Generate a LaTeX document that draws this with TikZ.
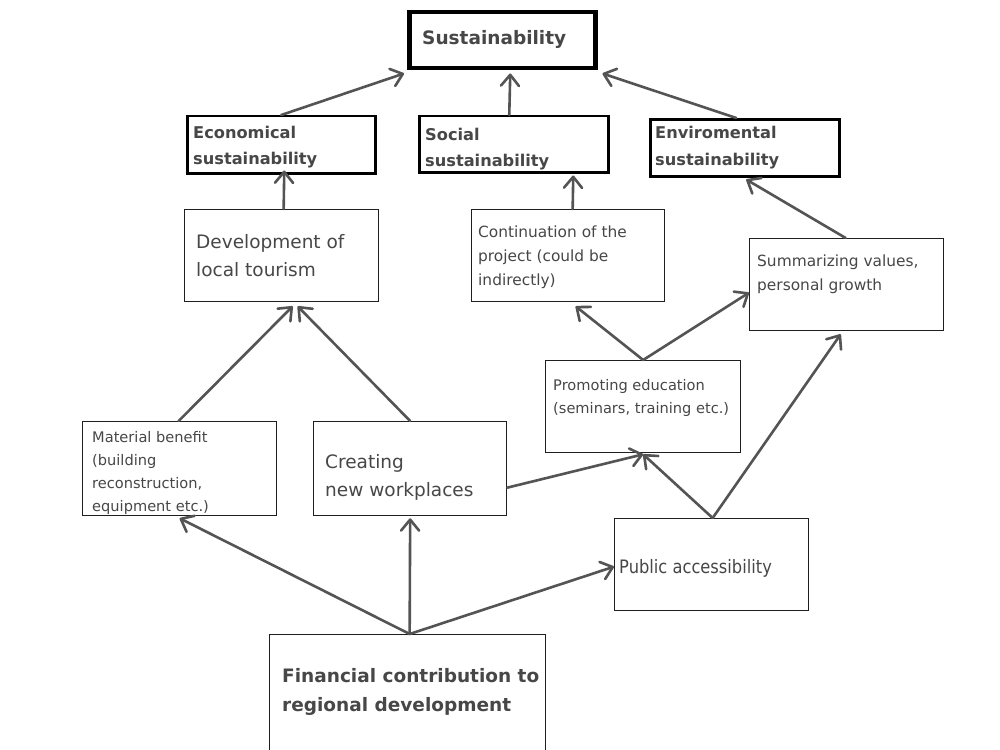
\documentclass[tikz,border=0pt]{standalone}
\usepackage{fontspec}
\setmainfont{DejaVu Sans}
\newfontfamily\condfont[FakeStretch=0.88]{DejaVu Sans}
\usetikzlibrary{arrows.meta,calc}
\definecolor{txt}{HTML}{474747}
\definecolor{arrc}{HTML}{545454}
\begin{document}
\begin{tikzpicture}[x=1pt,y=-1pt,
  box/.style={draw=black!88, line width=1.3pt, inner sep=0pt, anchor=north west, fill=none},
  bigbox/.style={box, line width=2.5pt, draw=black},
  topbox/.style={box, line width=4.5pt, draw=black},
  lbl/.style={anchor=base west, inner sep=0pt, text=txt},
  conn/.style={draw=arrc, line width=2.6pt, line cap=round, -{Straight Barb[length=11pt,width=18pt,line cap=round,line join=round]}},
  fL/.style={font=\fontsize{18.5}{22}\selectfont},
  fLb/.style={font=\fontsize{18.5}{22}\selectfont\bfseries},
  fMb/.style={font=\fontsize{16.2}{20}\selectfont\bfseries},
  fM/.style={font=\fontsize{15.4}{19}\selectfont},
  fS/.style={font=\fontsize{14.6}{18}\selectfont},
  fC/.style={font=\fontsize{18.5}{22}\selectfont\condfont},
]
\useasboundingbox (0,0) rectangle (1000,749);
\fill[white] (0,0) rectangle (1000,749);

% boxes
\node[topbox, minimum width=186pt, minimum height=56pt] (sust) at (407,10) {};
\node[bigbox, minimum width=188pt, minimum height=57pt] (econ) at (186,115) {};
\node[bigbox, minimum width=189pt, minimum height=56pt] (social) at (418,115) {};
\node[bigbox, minimum width=189pt, minimum height=57pt] (env) at (649,118) {};
\node[box, minimum width=194pt, minimum height=92pt] (dev) at (184,209) {};
\node[box, minimum width=193pt, minimum height=92pt] (cont) at (471,209) {};
\node[box, minimum width=194pt, minimum height=92pt] (summ) at (749,238) {};
\node[box, minimum width=195pt, minimum height=92pt] (prom) at (545,360) {};
\node[box, minimum width=194pt, minimum height=94pt] (mat) at (82,421) {};
\node[box, minimum width=193pt, minimum height=94pt] (creat) at (313,421) {};
\node[box, minimum width=194pt, minimum height=92pt] (pub) at (614,518) {};
\node[box, minimum width=276pt, minimum height=130pt] (fin) at (269,634) {};

% texts
\node[lbl, fLb] (tsust) at (422,45) {Sustainability};
\node[lbl, fMb] (tecon1) at (193,138) {Economical};
\node[lbl, fMb] (tecon2) at (193,164) {sustainability};
\node[lbl, fMb] (tsoc1) at (425,140) {Social};
\node[lbl, fMb] (tsoc2) at (425,166) {sustainability};
\node[lbl, fMb] (tenv1) at (655,138) {Enviromental};
\node[lbl, fMb] (tenv2) at (655,165) {sustainability};
\node[lbl, fL] (tdev1) at (196,248) {Development of};
\node[lbl, fL] (tdev2) at (196,276) {local tourism};
\node[lbl, fM] (tcont1) at (478,237) {Continuation of the};
\node[lbl, fM] (tcont2) at (478,261) {project (could be};
\node[lbl, fM] (tcont3) at (478,285) {indirectly)};
\node[lbl, fM] (tsumm1) at (757,266) {Summarizing values,};
\node[lbl, fM] (tsumm2) at (757,290) {personal growth};
\node[lbl, fS] (tprom1) at (553,390) {Promoting education};
\node[lbl, fS] (tprom2) at (553,413) {(seminars, training etc.)};
\node[lbl, fS] (tmat1) at (92,442) {Material benefit};
\node[lbl, fS] (tmat2) at (92,465) {(building};
\node[lbl, fS] (tmat3) at (92,488) {reconstruction,};
\node[lbl, fS] (tmat4) at (92,511) {equipment etc.)};
\node[lbl, fL] (tcreat1) at (325,468) {Creating};
\node[lbl, fL] (tcreat2) at (325,496) {new workplaces};
\node[lbl, fC] (tpub) at (619,573) {Public accessibility};
\node[lbl, fLb] (tfin1) at (282,682) {Financial contribution to};
\node[lbl, fLb] (tfin2) at (282,711) {regional development};

% connectors
\draw[conn] (econ.north) -- ([xshift=-3pt,yshift=-3pt]sust.south west);
\draw[conn] ([xshift=-4.5pt]social.north) -- ([xshift=8pt,yshift=-3pt]sust.south);
\draw[conn] ([xshift=-8.5pt]env.north) -- ([xshift=5pt,yshift=-3pt]sust.south east);
\draw[conn] ([xshift=2pt]dev.north) -- ([xshift=3pt,yshift=4pt]econ.south);
\draw[conn] ([xshift=4.5pt]cont.north) -- ([xshift=59.5pt,yshift=-2pt]social.south);
\draw[conn] ([xshift=-1pt]summ.north) -- ([xshift=1.5pt,yshift=-2pt]env.south);
\draw[conn] (prom.north) -- ([xshift=7.5pt,yshift=-4pt]cont.south);
\draw[conn] (prom.north) -- ([yshift=-8pt]summ.west);
\draw[conn] ([xshift=-1pt]mat.north) -- ([xshift=11pt,yshift=-4pt]dev.south);
\draw[conn] (creat.north) -- ([xshift=16pt,yshift=-4pt]dev.south);
\draw[conn] ([yshift=-19pt]creat.east) -- ([yshift=-1pt]prom.south);
\draw[conn] ([xshift=1pt]pub.north) -- ([yshift=-1pt]prom.south);
\draw[conn] ([xshift=1pt]pub.north) -- ([xshift=-6pt,yshift=-3pt]summ.south);
\draw[conn] ([xshift=2pt]fin.north) -- ([yshift=-2pt]mat.south);
\draw[conn] ([xshift=2pt]fin.north) -- ([yshift=-2pt]creat.south);
\draw[conn] ([xshift=2pt]fin.north) -- ([yshift=-2pt]pub.west);
\end{tikzpicture}
\end{document}
